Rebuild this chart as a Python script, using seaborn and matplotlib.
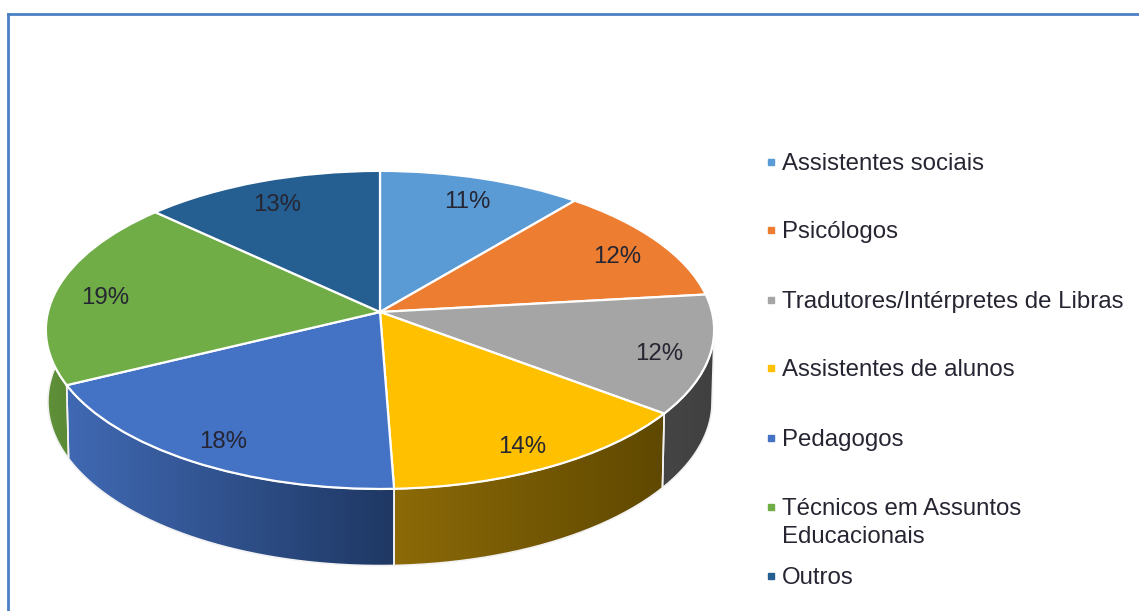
import numpy as np
import matplotlib
matplotlib.use('Agg')
import matplotlib.pyplot as plt
from matplotlib.patches import PathPatch
from matplotlib.path import Path
from matplotlib.transforms import Transform
import seaborn as sns

# Dados do grafico
categorias = ['Assistentes sociais', 'Psicólogos', 'Tradutores/Intérpretes de Libras',
              'Assistentes de alunos', 'Pedagogos', 'Técnicos em Assuntos\nEducacionais', 'Outros']
valores = [11.0, 12.2, 12.1, 14.1, 18.3, 19.3, 13.0]

cores = ['#5B9BD5', '#ED7D31', '#A5A5A5', '#FFC000', '#4472C4', '#70AD47', '#255E91']
# cor da parede lateral (esquerda, direita) de cada fatia
paredes = [('#3d6ca0', '#3d6ca0'), ('#a85820', '#a85820'), ('#454545', '#404040'),
           ('#8c6a08', '#5f4800'), ('#4069b3', '#1f3864'), ('#60913a', '#5a8a34'),
           ('#1a4268', '#1a4268')]
legenda_y = [162, 230, 300, 368, 438, 507, 576]
P = 0.1127


class Perspectiva(Transform):
    # leva o circulo unitario do pie para a elipse inclinada, em pixels
    input_dims = 2
    output_dims = 2

    def __init__(self, cx, cy, rx, ry):
        super().__init__()
        self.cx, self.cy, self.rx, self.ry = cx, cy, rx, ry

    def transform_non_affine(self, values):
        values = np.asarray(values, dtype=float)
        w = 1 + P * values[:, 1]
        return np.column_stack([self.cx + self.rx * values[:, 0] / w,
                                self.cy - self.ry * values[:, 1] / w])


sns.set_theme(style='white')
plt.rcParams['font.family'] = ['Liberation Sans', 'DejaVu Sans']

fig = plt.figure(figsize=(11.39, 6.11), dpi=100)
ax = fig.add_axes([8 / 1139, 0, 1 - 8 / 1139, 1 - 14 / 611])

wedges, _, pct = ax.pie(valores, colors=sns.color_palette(cores), startangle=90, counterclock=False,
                        autopct='%.0f%%', pctdistance=0.85,
                        wedgeprops={'edgecolor': 'white', 'linewidth': 1.6, 'zorder': 5},
                        textprops={'fontsize': 17.3, 'color': '#262633', 'zorder': 6})

topo = Perspectiva(380, 312, 332, 157)
base = Perspectiva(380, 383, 330, 162)
rotulos = Perspectiva(380, 317.5, 332, 157)
for w in wedges:
    w.set_transform(topo + ax.transData)
for t in pct:
    t.set_transform(rotulos + ax.transData)

# Paredes laterais: so a parte da frente do disco aparece
lim_dir = -np.degrees(np.arcsin(P))
lim_esq = -180 + lim_dir
for w, (c1, c2) in zip(wedges, paredes):
    t1 = max(w.theta1, lim_esq)
    t2 = min(w.theta2, lim_dir)
    if t1 >= t2:
        continue
    ang = np.radians(np.linspace(t1, t2, 80))
    arco = np.column_stack([np.cos(ang), np.sin(ang)])
    sup = topo.transform(arco)
    inf = base.transform(arco)
    contorno = np.vstack([sup, inf[::-1], sup[:1]])
    borda = PathPatch(Path(contorno), facecolor='none', edgecolor='#f2f2f2', linewidth=1.2, zorder=3)
    ax.add_patch(borda)
    rgb = np.array([matplotlib.colors.to_rgb(c1), matplotlib.colors.to_rgb(c2)])
    grad = np.linspace(rgb[0], rgb[1], 64)[np.newaxis, :, :]
    img = ax.imshow(grad, extent=(contorno[:, 0].min(), contorno[:, 0].max(),
                                  contorno[:, 1].max(), contorno[:, 1].min()),
                    aspect='auto', zorder=2, interpolation='bilinear')
    clip = PathPatch(Path(contorno), transform=ax.transData, facecolor='none', edgecolor='none')
    ax.add_patch(clip)
    img.set_clip_path(clip)

ax.set_aspect('auto')
ax.set_xlim(8, 1139)
ax.set_ylim(611, 14)
ax.set_frame_on(True)
ax.set_xticks([])
ax.set_yticks([])
sns.despine(ax=ax, top=False, right=True, bottom=True)
for lado in ['left', 'top']:
    ax.spines[lado].set_color('#4a80c4')
    ax.spines[lado].set_linewidth(2)

# Legenda
for nome, cor, y in zip(categorias, cores, legenda_y):
    ax.plot([771], [y], marker='s', markersize=4.5, color=cor, linestyle='none', clip_on=False)
    ax.text(782, y - 9, nome, fontsize=17.3, color='#262633', va='top', ha='left', linespacing=1.35)

fig.savefig('out.png', dpi=100, facecolor='white')
